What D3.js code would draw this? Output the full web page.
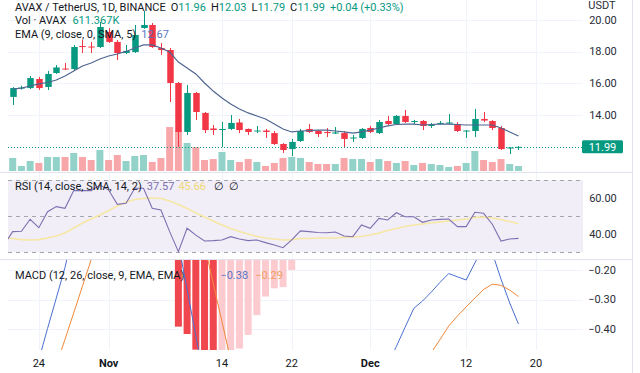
<!DOCTYPE html>
<html><head><meta charset="utf-8">
<script src="https://cdn.jsdelivr.net/npm/d3@7"></script>
<style>html,body{margin:0;padding:0;background:#fff;overflow:hidden}svg{display:block;font-family:Roboto,"Noto Sans",sans-serif}</style>
</head><body><svg id="c" width="640" height="373"></svg>
<script>
// ---------- DATA ----------
// candles: daily, 2022-10-21 .. 2022-12-18
const candleStart = "2022-10-21", candleEnd = "2022-12-18";
const open  = [15.14,15.70,15.70,16.27,15.77,16.65,16.93,16.90,18.35,18.32,18.29,19.24,18.61,17.91,17.97,19.49,19.68,18.23,18.10,16.02,12.93,15.39,14.13,13.15,13.05,13.12,13.53,13.12,12.96,13.02,12.86,12.17,11.85,12.36,13.12,12.99,12.93,12.83,12.86,12.52,12.55,13.18,12.86,13.62,13.43,13.94,13.56,13.62,13.31,13.46,13.46,13.43,12.96,12.99,13.75,13.62,13.18,11.89,11.96];
const high  = [15.76,15.85,16.46,16.40,16.78,17.15,17.28,18.42,18.73,18.61,19.87,19.49,18.73,18.42,19.68,20.56,19.80,18.54,18.23,16.08,15.89,15.45,14.19,13.37,13.56,14.00,13.75,13.15,13.31,13.12,12.99,12.23,12.49,13.12,13.43,13.05,13.18,13.24,12.99,12.74,13.18,13.31,13.68,13.94,14.00,14.32,13.68,13.68,13.50,13.62,14.06,13.56,13.05,14.38,14.19,13.68,13.31,11.98,12.03];
const low   = [14.63,15.60,15.64,15.58,15.58,16.59,16.84,16.84,17.91,17.91,18.23,18.55,17.47,17.85,17.91,19.43,18.23,17.79,14.82,11.98,12.74,13.68,12.86,12.74,11.98,13.05,12.86,12.74,12.86,12.55,12.11,11.60,11.41,12.30,12.86,12.61,12.61,12.80,11.98,12.30,12.49,12.86,12.80,13.37,13.37,13.50,13.43,13.05,13.18,13.40,13.40,12.93,12.55,12.61,13.56,13.05,11.79,11.54,11.79];
const close = [15.70,15.73,16.33,15.70,16.59,17.00,16.87,18.29,18.29,18.26,19.55,18.61,17.91,18.04,19.05,19.68,18.29,18.10,16.02,12.93,15.39,14.19,13.05,13.05,13.12,13.50,13.05,12.93,13.02,12.93,12.17,11.79,12.30,12.99,12.93,12.80,12.86,12.90,12.49,12.58,13.12,12.93,13.56,13.43,13.94,13.56,13.62,13.31,13.37,13.50,13.53,12.99,13.02,13.75,13.65,13.18,11.85,11.95,11.99];
// volume, millions of AVAX
const volume = [1.59,0.61,1.22,0.98,1.71,1.71,1.71,2.20,1.71,1.34,2.56,1.34,1.95,1.22,1.83,1.95,1.10,1.59,5.37,4.88,3.42,2.93,1.34,1.46,2.32,1.34,1.10,1.46,1.10,0.61,0.98,1.59,1.71,1.59,1.10,0.85,0.85,0.85,1.59,1.46,1.46,1.10,1.46,1.22,0.98,1.22,0.73,0.98,0.85,0.73,0.49,0.61,0.98,2.44,1.34,1.10,1.46,0.85,0.611];
// EMA(9) smoothed
const ema = [15.64,15.70,15.83,15.96,16.05,16.21,16.46,16.78,17.09,17.28,17.53,17.72,17.85,18.01,18.23,18.42,18.42,18.23,17.97,17.34,16.97,16.59,16.02,15.51,15.07,14.69,14.38,14.13,13.94,13.75,13.43,13.12,12.93,12.99,13.02,13.05,13.05,12.99,12.93,12.86,12.93,13.05,13.18,13.31,13.40,13.43,13.43,13.37,13.40,13.43,13.43,13.40,13.37,13.37,13.37,13.37,13.18,12.93,12.67];
// indicators: daily, 2022-10-20 .. 2022-12-18
const indStart = "2022-10-20";
const rsi = [34.0,41.3,41.5,48.2,43.5,52.4,55.2,54.3,64.1,64.1,64.1,67.2,64.4,56.5,57.1,65.4,65.4,54.3,53.3,41.3,30.2,43.2,39.4,36.1,36.3,36.7,38.5,37.2,36.3,36.7,35.2,33.9,32.4,36.7,41.7,41.3,40.8,40.7,41.1,38.9,38.5,45.0,43.2,48.7,47.8,51.8,49.6,49.6,46.5,47.8,48.1,48.3,44.1,44.1,52.1,51.5,45.4,36.1,37.2,37.57];
const rsiMa = [37.8,37.5,36.9,36.7,36.9,37.8,38.9,40.6,43.3,46.1,48.3,50.6,53.1,55.6,57.8,59.2,59.7,60.0,59.7,58.3,56.4,54.2,51.7,49.4,47.2,45.0,43.1,41.4,40.0,38.6,37.8,37.2,36.7,36.9,37.5,37.5,37.8,37.8,37.8,38.1,38.3,38.6,39.4,40.6,41.9,43.1,44.2,45.0,45.6,46.1,46.7,47.2,47.8,48.3,49.2,49.4,48.9,48.1,46.9,45.66];
const macd = [-0.76,-0.70,-0.66,-0.58,-0.504,-0.398,-0.295,-0.191,-0.06,0.06,0.15,0.25,0.30,0.30,0.31,0.36,0.40,0.38,0.34,0.10,-0.11,-0.266,-0.423,-0.58,-0.70,-0.78,-0.84,-0.88,-0.90,-0.90,-0.89,-0.89,-0.90,-0.88,-0.83,-0.79,-0.76,-0.73,-0.70,-0.69,-0.67,-0.63,-0.61,-0.57,-0.52,-0.459,-0.394,-0.33,-0.305,-0.275,-0.242,-0.212,-0.223,-0.234,-0.176,-0.12,-0.142,-0.231,-0.312,-0.383];
const signal = [-0.80,-0.78,-0.75,-0.71,-0.66,-0.60,-0.524,-0.435,-0.345,-0.255,-0.165,-0.08,0.0,0.07,0.12,0.18,0.23,0.27,0.29,0.28,0.25,0.15,0.04,-0.115,-0.246,-0.375,-0.505,-0.60,-0.68,-0.74,-0.78,-0.81,-0.84,-0.85,-0.86,-0.86,-0.85,-0.83,-0.81,-0.79,-0.77,-0.74,-0.71,-0.68,-0.65,-0.62,-0.59,-0.56,-0.52,-0.48,-0.436,-0.39,-0.356,-0.325,-0.295,-0.266,-0.248,-0.252,-0.268,-0.29];
const hist = [0.04,0.08,0.09,0.13,0.16,0.20,0.23,0.24,0.28,0.31,0.31,0.33,0.30,0.23,0.19,0.18,0.17,0.11,0.05,-0.15,-0.392,-0.417,-0.47,-0.50,-0.53,-0.51,-0.49,-0.466,-0.42,-0.353,-0.29,-0.262,-0.258,-0.20,-0.14,-0.10,-0.08,-0.06,-0.05,-0.06,-0.05,-0.02,-0.02,0.02,0.06,0.10,0.15,0.18,0.17,0.17,0.17,0.15,0.12,0.08,0.10,0.12,0.09,0.02,-0.04,-0.09];
// axis ticks
const timeTicks = ["2022-10-24","2022-11-01","2022-11-14","2022-11-22","2022-12-01","2022-12-12","2022-12-20"];
const timeTickLabels = ["24","Nov","14","22","Dec","12","20"];
const priceTicks = [20,18,16,14];
const rsiTicks = [60,40];
const rsiLevels = [70,50,30];
const macdTicks = [-0.2,-0.3,-0.4];
const lastPrice = 11.99;
const lastVolumeLabel = "611.367K";

// ---------- SETUP ----------
const parse = d3.utcParse("%Y-%m-%d");
const cDates = d3.utcDay.range(parse(candleStart), d3.utcDay.offset(parse(candleEnd),1));
const iDates = d3.utcDay.range(parse(indStart), d3.utcDay.offset(parse(candleEnd),1));
const candles = cDates.map((d,i)=>({d,o:open[i],h:high[i],l:low[i],c:close[i],v:volume[i],e:ema[i]}));
const ind = iDates.map((d,i)=>({d,r:rsi[i],rm:rsiMa[i],m:macd[i],s:signal[i],h:hist[i],ph:i?hist[i-1]:hist[i]}));

const L=8, R=583;
const x = d3.scaleUtc().domain([parse("2022-10-21"),parse("2022-12-20")]).range([12.7,535.9]);
const yP = d3.scaleLinear().domain([14,20]).range([115,19.9]);
const yV = d3.scaleLinear().domain([0,5.37]).range([171,127]);
const yR = d3.scaleLinear().domain([30,70]).range([252,180]);
const yM = d3.scaleLinear().domain([-0.4,-0.2]).range([329,270]);
const panes = {main:[0,172],rsi:[173,259],macd:[260,350]};

const UP="#089981", DN="#f23645", TXT="#131722", GRID="#f0f3fa", SEP="#e0e3eb";
const svg = d3.select("#c");
const defs = svg.append("defs");
Object.entries(panes).forEach(([k,[t,b]])=>{
  defs.append("clipPath").attr("id","clip-"+k).append("rect").attr("x",L).attr("y",t).attr("width",R-L).attr("height",b-t);
});

// grid
const g0 = svg.append("g");
timeTicks.forEach(t=>{
  const xx = Math.round(x(parse(t)))+0.5;
  g0.append("line").attr("x1",xx).attr("x2",xx).attr("y1",0).attr("y2",350).attr("stroke",GRID);
});
priceTicks.forEach(p=>g0.append("line").attr("x1",L).attr("x2",R).attr("y1",Math.round(yP(p))+0.5).attr("y2",Math.round(yP(p))+0.5).attr("stroke",GRID));
macdTicks.forEach(p=>g0.append("line").attr("x1",L).attr("x2",R).attr("y1",Math.round(yM(p))+0.5).attr("y2",Math.round(yM(p))+0.5).attr("stroke",GRID));
[172.5,259.5].forEach(y=>svg.append("line").attr("x1",0).attr("x2",632).attr("y1",y).attr("y2",y).attr("stroke",SEP));
svg.append("line").attr("x1",632.5).attr("x2",632.5).attr("y1",0).attr("y2",373).attr("stroke",SEP);

// ---------- MAIN PANE ----------
const gm = svg.append("g").attr("clip-path","url(#clip-main)");
gm.selectAll("rect.vol").data(candles).join("rect").attr("class","vol")
  .attr("x",d=>x(d.d)-3.5).attr("width",7)
  .attr("y",d=>yV(d.v)).attr("height",d=>yV(0)-yV(d.v))
  .attr("fill",d=>d.c>=d.o?"#92d2c9":"#f7a6aa");
gm.append("line").attr("x1",L).attr("x2",R).attr("y1",Math.round(yP(lastPrice))+0.5).attr("y2",Math.round(yP(lastPrice))+0.5)
  .attr("stroke",UP).attr("stroke-dasharray","1,2");
gm.selectAll("line.wick").data(candles).join("line").attr("class","wick")
  .attr("x1",d=>Math.round(x(d.d))+0.5).attr("x2",d=>Math.round(x(d.d))+0.5)
  .attr("y1",d=>yP(d.h)).attr("y2",d=>yP(d.l)).attr("stroke",d=>d.c>=d.o?UP:DN);
gm.selectAll("rect.body").data(candles).join("rect").attr("class","body")
  .attr("x",d=>Math.round(x(d.d))+0.5-3.25).attr("width",6.5)
  .attr("y",d=>yP(Math.max(d.o,d.c))).attr("height",d=>Math.max(1,Math.abs(yP(d.o)-yP(d.c))))
  .attr("fill",d=>d.c>=d.o?UP:DN);
gm.append("path").datum(candles).attr("fill","none").attr("stroke","#4f6590").attr("stroke-width",1.2)
  .attr("d",d3.line().x(d=>x(d.d)).y(d=>yP(d.e)));

// ---------- RSI PANE ----------
const gr = svg.append("g").attr("clip-path","url(#clip-rsi)");
gr.append("rect").attr("x",L).attr("width",R-L).attr("y",yR(70)).attr("height",yR(30)-yR(70)).attr("fill","#f1eef8");
rsiLevels.forEach(v=>gr.append("line").attr("x1",L).attr("x2",R).attr("y1",Math.round(yR(v))+0.5).attr("y2",Math.round(yR(v))+0.5)
  .attr("stroke","#a3a6af").attr("stroke-dasharray","4,4"));
gr.append("path").datum(ind).attr("fill","none").attr("stroke","#f6e7a4").attr("stroke-width",1.6)
  .attr("d",d3.line().x(d=>x(d.d)).y(d=>yR(d.rm)));
gr.append("path").datum(ind).attr("fill","none").attr("stroke","#7e6fb0").attr("stroke-width",1.1)
  .attr("d",d3.line().x(d=>x(d.d)).y(d=>yR(d.r)));

// ---------- MACD PANE ----------
const gd = svg.append("g").attr("clip-path","url(#clip-macd)");
gd.selectAll("rect.h").data(ind).join("rect").attr("class","h")
  .attr("x",d=>x(d.d)-3.5).attr("width",7)
  .attr("y",d=>Math.min(yM(0),yM(d.h))).attr("height",d=>Math.abs(yM(d.h)-yM(0)))
  .attr("fill",d=>d.h<0?(d.h<d.ph?"#f0474e":"#fccbd0"):(d.h>d.ph?"#26a69a":"#b2dfdb"));
gd.append("path").datum(ind).attr("fill","none").attr("stroke","#4a6fd0").attr("stroke-width",1)
  .attr("d",d3.line().x(d=>x(d.d)).y(d=>yM(d.m)));
gd.append("path").datum(ind).attr("fill","none").attr("stroke","#f0883a").attr("stroke-width",1)
  .attr("d",d3.line().x(d=>x(d.d)).y(d=>yM(d.s)));

// ---------- AXES ----------
const fmt2 = v=>d3.format(".2f")(v).replace("-","\u2212");
const ax = svg.append("g").attr("font-size",11).attr("fill","#2a2e39").attr("text-anchor","middle");
ax.append("text").attr("x",602).attr("y",9).text("USDT");
priceTicks.forEach(p=>ax.append("text").attr("x",603).attr("y",yP(p)).attr("dy","0.35em").text(fmt2(p)));
rsiTicks.forEach(p=>ax.append("text").attr("x",603).attr("y",yR(p)).attr("dy","0.35em").text(fmt2(p)));
macdTicks.forEach(p=>ax.append("text").attr("x",602).attr("y",yM(p)).attr("dy","0.35em").text(fmt2(p)));
svg.append("rect").attr("x",582).attr("y",yP(lastPrice)-6.5).attr("width",41).attr("height",13).attr("rx",1.5).attr("fill",UP);
svg.append("text").attr("x",602.5).attr("y",yP(lastPrice)).attr("dy","0.35em").attr("text-anchor","middle")
  .attr("font-size",11).attr("fill","#fff").text(fmt2(lastPrice));
timeTicks.forEach((t,i)=>{
  const bold = isNaN(+timeTickLabels[i]);
  ax.append("text").attr("x",x(parse(t))).attr("y",367).attr("font-weight",bold?700:400).attr("fill",TXT).text(timeTickLabels[i]);
});

// ---------- LEGENDS (flowed left to right) ----------
const lg = svg.append("g").attr("font-size",11).attr("fill",TXT);
function flow(y, x0, items){
  let cx = x0;
  items.forEach(it=>{
    cx += it.gap||0;
    const t = lg.append("text").attr("x",cx).attr("y",y);
    it.parts.forEach(p=>t.append("tspan").attr("fill",p[1]||TXT).text(p[0]));
    cx += t.node().getComputedTextLength();
  });
}
const n = close.length-1;
const chg = close[n]-close[n-1];
flow(11, 15, [
  {parts:[["AVAX / TetherUS, 1D, BINANCE"]]},
  {gap:5, parts:[["O"],[open[n].toFixed(2),UP]]},
  {gap:5, parts:[["H"],[high[n].toFixed(2),UP]]},
  {gap:5, parts:[["L"],[low[n].toFixed(2),UP]]},
  {gap:5, parts:[["C"],[close[n].toFixed(2),UP]]},
  {gap:5, parts:[[(chg>=0?"+":"")+chg.toFixed(2)+" (+"+(chg/close[n-1]*100).toFixed(2)+"%)",UP]]}
]);
flow(24, 15, [{parts:[["Vol \u00b7 AVAX"]]},{gap:6,parts:[[lastVolumeLabel,UP]]}]);
flow(37.5, 15, [{parts:[["EMA (9, close, 0, SMA, 5)"]]},{gap:5,parts:[[ema[n].toFixed(2),"#5b78c8"]]}]);
flow(190, 15, [
  {parts:[["RSI (14, close, SMA, 14, 2)"]]},
  {gap:5, parts:[[rsi[rsi.length-1].toFixed(2),"#7e6fb0"]]},
  {gap:4, parts:[[rsiMa[rsiMa.length-1].toFixed(2),"#f0d878"]]},
  {gap:8, parts:[["\u2205"]]},
  {gap:5, parts:[["\u2205"]]}
]);
flow(279, 15, [
  {parts:[["MACD (12, 26, close, 9, EMA, EMA)"]]},
  {gap:36, parts:[[fmt2(macd[macd.length-1]),"#5b78c8"]]},
  {gap:7, parts:[[fmt2(signal[signal.length-1]),"#f0a060"]]}
]);
</script></body></html>
